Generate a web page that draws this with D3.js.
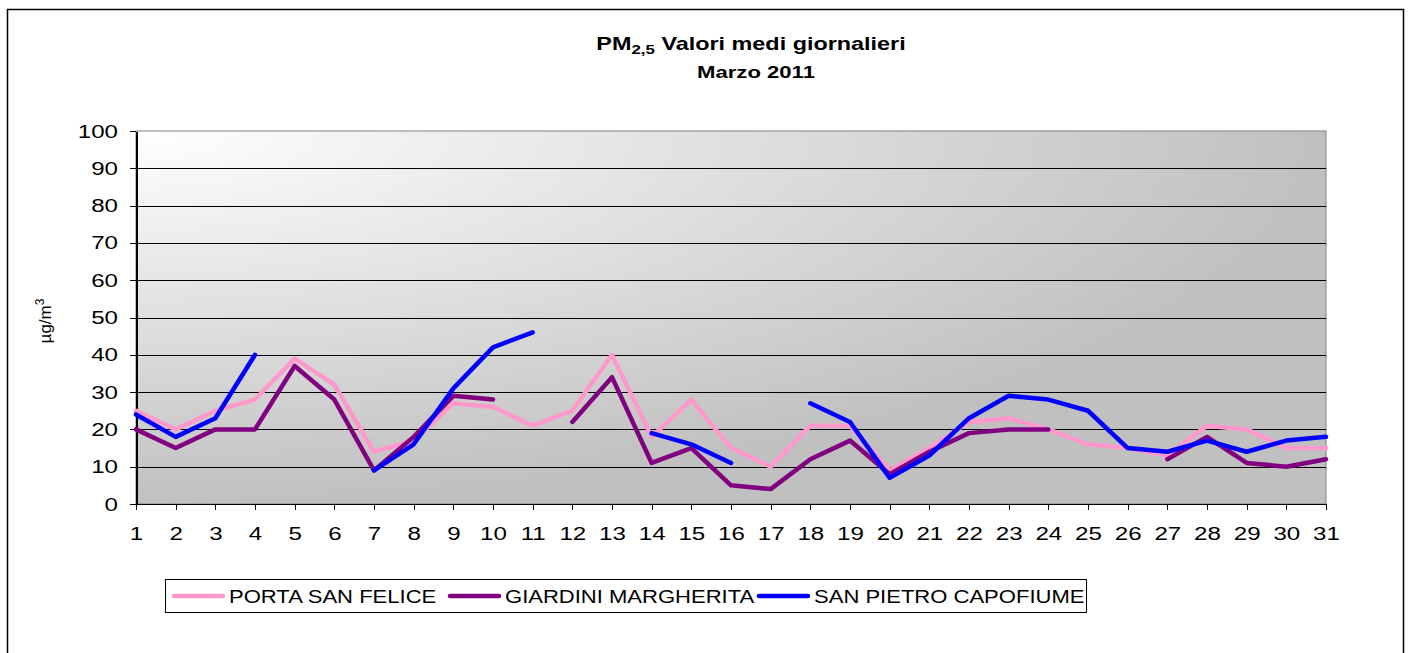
<!DOCTYPE html>
<html>
<head>
<meta charset="utf-8">
<title>PM2,5 Valori medi giornalieri - Marzo 2011</title>
<script src="https://d3js.org/d3.v7.min.js"></script>
<style>
  body { margin: 0; background: #fff; }
  text { font-family: "Liberation Sans", Arial, sans-serif; fill: #000; }
  .axis path, .axis line { stroke: #000; shape-rendering: crispEdges; }
  .grid line { stroke: #000; stroke-width: 1; shape-rendering: crispEdges; }
</style>
</head>
<body>
<svg id="main" width="1409" height="653"></svg>
<script>
// giorni del mese
var days = [1,2,3,4,5,6,7,8,9,10,11,12,13,14,15,16,17,18,19,20,21,22,23,24,25,26,27,28,29,30,31];

// valori medi giornalieri PM2,5 (µg/m3), null = dato mancante
var portaSanFelice     = [25,20,25,28,39,32,14,17,27,26,21,25,40,18,28,15,10,21,21,9,15,22,23,20,16,15,13,21,20,15,15];
var giardiniMargherita = [20,15,20,20,37,28,9,18,29,28,null,22,34,11,15,5,4,12,17,8,14,19,20,20,null,null,12,18,11,10,12];
var sanPietroCapofiume = [24,18,23,40,null,null,9,16,31,42,46,null,null,19,16,11,null,27,22,7,13,23,29,28,25,15,14,17,14,17,18];

var seriesNames  = ["PORTA SAN FELICE", "GIARDINI MARGHERITA", "SAN PIETRO CAPOFIUME"];
var seriesColors = ["#ff99cc", "#800080", "#0000ff"];
var yTicks = [0,10,20,30,40,50,60,70,80,90,100];

var svg = d3.select("#main");

var PLOT_L = 136, PLOT_R = 1326, PLOT_T = 131, PLOT_B = 504;
// il grafico originale è allargato in orizzontale: i testi vengono stirati
var STRETCH_TICK = 1.27, STRETCH_TITLE = 1.3, STRETCH_LEGEND = 1.16;

var x = d3.scaleLinear().domain([1, 31]).range([PLOT_L, PLOT_R]);
var y = d3.scaleLinear().domain([0, 100]).range([PLOT_B, PLOT_T]);

// cornice esterna
svg.append("rect")
  .attr("x", 7.5).attr("y", 9.5)
  .attr("width", 1396).attr("height", 700)
  .attr("fill", "#fff").attr("stroke", "#000").attr("stroke-width", 1.5);

// sfondo sfumato dell'area del grafico
var defs = svg.append("defs");
var grad = defs.append("radialGradient")
  .attr("id", "bg").attr("cx", 0).attr("cy", 0).attr("fx", 0).attr("fy", 0).attr("r", 1);
grad.append("stop").attr("offset", 0).attr("stop-color", "#ffffff");
grad.append("stop").attr("offset", 1).attr("stop-color", "#c0c0c0");

svg.append("rect")
  .attr("x", PLOT_L).attr("y", PLOT_T)
  .attr("width", PLOT_R - PLOT_L).attr("height", PLOT_B - PLOT_T)
  .attr("fill", "url(#bg)").attr("stroke", "#808080").attr("stroke-width", 1);

// griglia
svg.append("g").attr("class", "grid")
  .selectAll("line")
  .data(yTicks.filter(function(d) { return d > 0 && d < 100; }))
  .enter().append("line")
  .attr("x1", PLOT_L).attr("x2", PLOT_R)
  .attr("y1", function(d) { return Math.round(y(d)) + 0.5; })
  .attr("y2", function(d) { return Math.round(y(d)) + 0.5; });

// assi
var yAxis = svg.append("g").attr("class", "axis")
  .attr("transform", "translate(" + PLOT_L + ",0)")
  .call(d3.axisLeft(y).tickValues(yTicks).tickSize(6).tickSizeOuter(0).tickPadding(12));
yAxis.select(".domain").attr("stroke-width", 2);

var xAxis = svg.append("g").attr("class", "axis")
  .attr("transform", "translate(0," + PLOT_B + ")")
  .call(d3.axisBottom(x).tickValues(days).tickSize(6).tickSizeOuter(0).tickPadding(17).tickFormat(d3.format("d")));
xAxis.select(".domain").attr("stroke-width", 1.5);

svg.selectAll(".axis text")
  .style("font-family", "'Liberation Sans', Arial, sans-serif")
  .style("font-size", "19px")
  .attr("x", function() { return (+d3.select(this).attr("x") || 0) / STRETCH_TICK; })
  .attr("transform", "scale(" + STRETCH_TICK + ",1)");

// linee
var line = d3.line()
  .defined(function(d) { return d != null; })
  .x(function(d, i) { return x(days[i]); })
  .y(function(d) { return y(d); });

var allSeries = [portaSanFelice, giardiniMargherita, sanPietroCapofiume];

svg.append("g").selectAll("path")
  .data(allSeries)
  .enter().append("path")
  .attr("d", line)
  .attr("fill", "none")
  .attr("stroke", function(d, i) { return seriesColors[i]; })
  .attr("stroke-width", 4.5)
  .attr("stroke-linejoin", "round")
  .attr("stroke-linecap", "round");

// titolo
var title = svg.append("text")
  .attr("transform", "translate(751,50) scale(" + STRETCH_TITLE + ",1)")
  .attr("text-anchor", "middle")
  .style("font-weight", "bold").style("font-size", "18px");
title.append("tspan").text("PM");
title.append("tspan").attr("dy", 4).style("font-size", "13px").text("2,5");
title.append("tspan").attr("dy", -4).text(" Valori medi giornalieri");

svg.append("text")
  .attr("transform", "translate(756,78) scale(" + STRETCH_TITLE + ",1)")
  .attr("text-anchor", "middle")
  .style("font-weight", "bold").style("font-size", "17px")
  .text("Marzo 2011");

// titolo asse y
var yTitle = svg.append("text")
  .attr("transform", "translate(51,321) rotate(-90)")
  .attr("text-anchor", "middle")
  .style("font-size", "17px");
yTitle.append("tspan").text("µg/m");
yTitle.append("tspan").attr("dy", -7).style("font-size", "12px").text("3");

// legenda
var legend = svg.append("g");
legend.append("rect")
  .attr("x", 165.5).attr("y", 579.5)
  .attr("width", 921).attr("height", 33)
  .attr("fill", "#fff").attr("stroke", "#000").attr("stroke-width", 1);

var legendX = [174, 450, 759];
var items = legend.selectAll("g.item")
  .data(seriesNames)
  .enter().append("g")
  .attr("class", "item")
  .attr("transform", function(d, i) { return "translate(" + legendX[i] + ",596)"; });

items.append("line")
  .attr("x1", 0).attr("x2", 49)
  .attr("y1", 0).attr("y2", 0)
  .attr("stroke", function(d, i) { return seriesColors[i]; })
  .attr("stroke-width", 4.5)
  .attr("stroke-linecap", "round");

items.append("text")
  .attr("transform", "translate(55,0) scale(" + STRETCH_LEGEND + ",1)")
  .attr("dy", "0.35em")
  .style("font-size", "19px")
  .text(function(d) { return d; });
</script>
</body>
</html>
